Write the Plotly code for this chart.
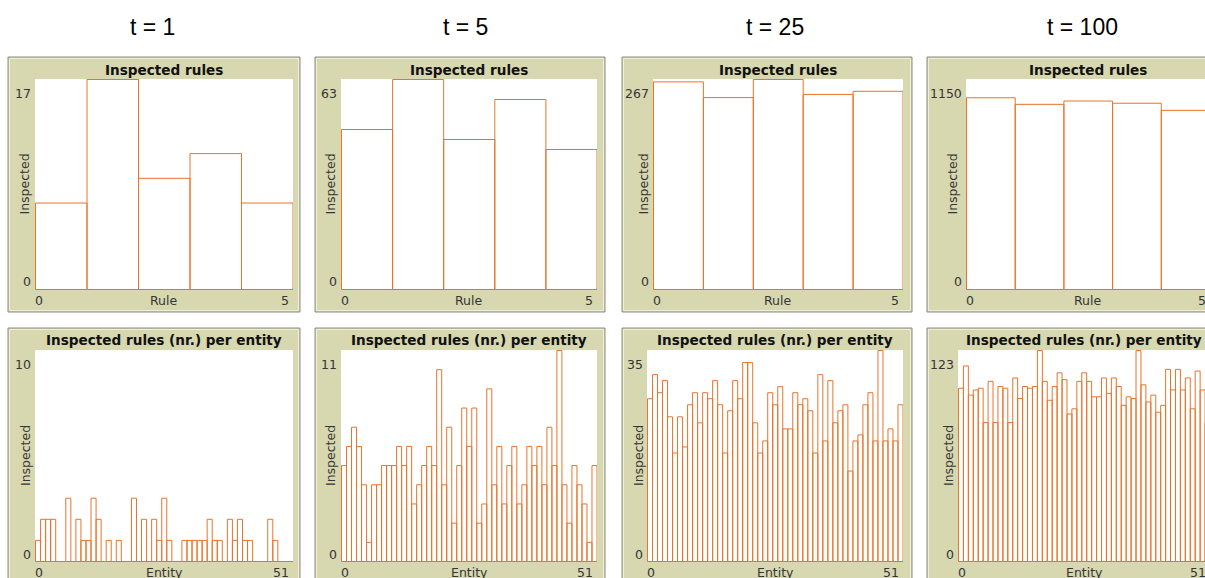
import plotly.graph_objects as go

W, H = 1205, 578

# ---------------- data ----------------
time_labels = ["t = 1", "t = 5", "t = 25", "t = 100"]
rule_title = "Inspected rules"
entity_title = "Inspected rules (nr.) per entity"
y_title = "Inspected"
rule_x_title = "Rule"
entity_x_title = "Entity"

rule_counts_t1 = [7, 17, 9, 11, 7]
rule_counts_t5 = [48, 63, 45, 57, 42]
rule_counts_t25 = [264, 244, 267, 248, 252]
rule_counts_t100 = [1050, 1014, 1032, 1020, 981]

entity_counts_t1 = [1, 2, 2, 2, 0, 0, 3, 0, 2, 1, 1, 3, 2, 0, 1, 0, 1, 0, 0, 3,
                    0, 2, 0, 2, 1, 3, 1, 0, 0, 1, 1, 1, 1, 1, 2, 1, 1, 0, 2, 1,
                    2, 1, 1, 0, 0, 0, 2, 1, 0, 0, 0]
entity_counts_t5 = [5, 6, 7, 6, 4, 1, 4, 4, 5, 5, 5, 6, 5, 6, 3, 4, 5, 6, 5, 10,
                    4, 7, 2, 5, 8, 6, 8, 2, 3, 9, 4, 6, 3, 5, 6, 3, 4, 6, 5, 6,
                    4, 7, 5, 11, 4, 2, 5, 4, 3, 1, 5]
entity_counts_t25 = [27, 31, 28, 30, 24, 18, 24, 19, 26, 28, 23, 28, 27, 30, 26, 18, 25, 30, 27, 33,
                     33, 23, 18, 20, 28, 26, 29, 22, 22, 28, 26, 27, 25, 18, 31, 20, 30, 23, 25, 26,
                     15, 20, 21, 26, 28, 20, 35, 20, 22, 20, 26]
entity_counts_t100 = [101, 114, 97, 100, 101, 81, 105, 81, 102, 101, 81, 107, 95, 102, 101, 102, 123, 105, 94, 102,
                      110, 106, 86, 89, 105, 110, 105, 96, 96, 107, 98, 107, 102, 91, 96, 95, 123, 103, 93, 97,
                      87, 91, 112, 100, 112, 100, 107, 89, 111, 100, 81]

rule_series = [rule_counts_t1, rule_counts_t5, rule_counts_t25, rule_counts_t100]
entity_series = [entity_counts_t1, entity_counts_t5, entity_counts_t25, entity_counts_t100]

rule_ymax = [17, 63, 267, 1150]
entity_ymax = [10, 11, 35, 123]
rule_xmax = 5
entity_xmax = 51

# ---------------- layout constants (pixels) ----------------
ORANGE = "rgb(232,116,44)"
FRAME = "#D7D7B0"
TXT = "#353535"
FONT = "DejaVu Sans"

frame_x = [(8, 300), (315, 605), (622, 912), (927, 1219)]
top_plot_x = [(35, 293), (341, 597), (653, 903), (966, 1210)]
bot_plot_x = [(35, 293), (341, 597), (647, 903), (958, 1210)]
ylab_x_top = [24, 330, 643, 952]
ylab_x_bot = [25, 330, 638, 948]
header_x = [152, 465, 775, 1082]
header_y = 27

rows = [
    dict(frame=(57, 312), plot=(79, 290), title_y=70, xlab_y=300,
         plot_x=top_plot_x, ylab_x=ylab_x_top, title=rule_title,
         xtitle=rule_x_title, series=rule_series, ymax=rule_ymax, xmax=rule_xmax),
    dict(frame=(328, 590), plot=(350, 562), title_y=340, xlab_y=572,
         plot_x=bot_plot_x, ylab_x=ylab_x_bot, title=entity_title,
         xtitle=entity_x_title, series=entity_series, ymax=entity_ymax, xmax=entity_xmax),
]


def px(x):
    return x / W


def py(y):
    return 1 - y / H


fig = go.Figure()
shapes = []
annotations = []

for c, lab in enumerate(time_labels):
    annotations.append(dict(x=px(header_x[c]), y=py(header_y), xref="paper", yref="paper",
                            text=lab, showarrow=False, xanchor="center", yanchor="middle",
                            font=dict(family="Liberation Sans, Arial", size=23, color="#000")))

k = 0
for r, row in enumerate(rows):
    fy0, fy1 = row["frame"]
    ty0, ty1 = row["plot"]
    for c in range(4):
        k += 1
        fx0, fx1 = frame_x[c]
        lx0, lx1 = row["plot_x"][c]
        shapes.append(dict(type="rect", xref="paper", yref="paper", layer="below",
                           x0=px(fx0), x1=px(fx1), y0=py(fy1), y1=py(fy0),
                           fillcolor=FRAME, line=dict(color="#8c8c84", width=1)))
        shapes.append(dict(type="rect", xref="paper", yref="paper", layer="below",
                           x0=px(fx0 + 1.5), x1=px(fx1 - 1.5), y0=py(fy1 - 1.5), y1=py(fy0 + 1.5),
                           fillcolor="rgba(0,0,0,0)", line=dict(color="#efefdc", width=1)))
        shapes.append(dict(type="rect", xref="paper", yref="paper", layer="below",
                           x0=px(lx0), x1=px(lx1), y0=py(ty1), y1=py(ty0),
                           fillcolor="white", line=dict(width=0)))

        vals = row["series"][c]
        ymax = row["ymax"][c]
        xmax = row["xmax"]
        pw = lx1 - lx0
        ph = ty1 - ty0
        vis_x1 = min(lx1, W)
        x_hi = xmax * (vis_x1 - lx0) / pw
        xa = "x" if k == 1 else f"x{k}"
        ya = "y" if k == 1 else f"y{k}"
        fig.add_trace(go.Bar(
            x=[i + 0.5 for i in range(len(vals))], y=vals, width=1,
            marker=dict(color="rgba(255,255,255,0)", line=dict(color=ORANGE, width=1)),
            xaxis=xa, yaxis=ya, showlegend=False, hoverinfo="skip"))
        fig.add_trace(go.Scatter(
            x=[0, len(vals)], y=[0, 0], mode="lines",
            line=dict(color=ORANGE, width=1), xaxis=xa, yaxis=ya,
            showlegend=False, hoverinfo="skip"))
        xpad = xmax * 0.5 / pw
        ypad = ymax * 0.5 / ph
        fig.layout[f"xaxis{'' if k == 1 else k}"] = dict(
            domain=[px(lx0), px(vis_x1)], range=[-xpad, x_hi], visible=False,
            anchor=ya, fixedrange=True)
        fig.layout[f"yaxis{'' if k == 1 else k}"] = dict(
            domain=[py(ty1), py(ty0)], range=[-ypad, ymax + ypad], visible=False,
            anchor=xa, fixedrange=True)

        annotations.append(dict(x=px((lx0 + lx1) / 2), y=py(row["title_y"]), xref="paper", yref="paper",
                                text=f"<b>{row['title']}</b>", showarrow=False,
                                xanchor="center", yanchor="middle",
                                font=dict(family=FONT, size=13.6, color="#111")))
        annotations.append(dict(x=px(lx0 - 2), y=py(ty0 + 14), xref="paper", yref="paper",
                                text=str(ymax), showarrow=False, xanchor="right", yanchor="middle",
                                font=dict(family=FONT, size=12.5, color=TXT)))
        annotations.append(dict(x=px(lx0 - 2), y=py(ty1 - 8), xref="paper", yref="paper",
                                text="0", showarrow=False, xanchor="right", yanchor="middle",
                                font=dict(family=FONT, size=12.5, color=TXT)))
        annotations.append(dict(x=px(row["ylab_x"][c]), y=py((ty0 + ty1) / 2), xref="paper", yref="paper",
                                text=y_title, textangle=-90, showarrow=False,
                                xanchor="center", yanchor="middle",
                                font=dict(family=FONT, size=12.5, color=TXT)))
        annotations.append(dict(x=px(lx0 - 2), y=py(row["xlab_y"]), xref="paper", yref="paper",
                                text="0", showarrow=False, xanchor="left", yanchor="middle",
                                font=dict(family=FONT, size=12.5, color=TXT)))
        annotations.append(dict(x=px(lx1 - 2), y=py(row["xlab_y"]), xref="paper", yref="paper",
                                text=str(xmax), showarrow=False, xanchor="right", yanchor="middle",
                                font=dict(family=FONT, size=12.5, color=TXT)))
        annotations.append(dict(x=px((lx0 + lx1) / 2), y=py(row["xlab_y"]), xref="paper", yref="paper",
                                text=row["xtitle"], showarrow=False, xanchor="center", yanchor="middle",
                                font=dict(family=FONT, size=12.5, color=TXT)))

fig.update_layout(
    width=W, height=H, margin=dict(l=0, r=0, t=0, b=0),
    paper_bgcolor="white", plot_bgcolor="rgba(0,0,0,0)",
    shapes=shapes, annotations=annotations, bargap=0, showlegend=False,
    hovermode=False, dragmode=False,
)

fig.write_html(
    "out.html",
    config={"displayModeBar": False, "staticPlot": True},
    post_script="document.body.style.margin='0';document.body.style.padding='0';"
                "document.body.style.overflow='hidden';",
)
